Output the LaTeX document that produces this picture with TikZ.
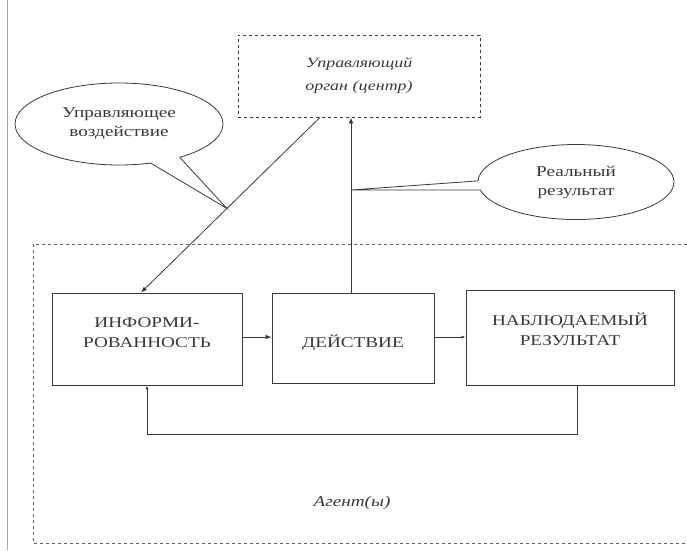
\documentclass[tikz,border=0pt]{standalone}
\usepackage{fontspec}
\setmainfont{Liberation Serif}
\newfontfamily\wideserif[FakeStretch=1.28]{Liberation Serif}
\usetikzlibrary{arrows.meta,shapes.geometric,shapes.callouts,calc}
\definecolor{ink}{gray}{0.22}
\begin{document}
\begin{tikzpicture}[x=1pt,y=-1pt,
  every node/.style={text=ink},
  blk/.style={draw=ink,line width=0.9pt,rectangle,inner sep=0pt},
  btxt/.style={align=center,inner sep=0pt,font=\wideserif\fontsize{15}{20}\selectfont},
  dbox/.style={draw=ink,line width=0.8pt,dashed,rectangle,inner sep=0pt,align=center},
  bubble/.style={draw=ink,line width=0.8pt,ellipse callout,inner sep=0pt,align=center,font=\wideserif\fontsize{15}{19}\selectfont},
  arr/.style={draw=ink,line width=0.8pt,-{Latex[length=6pt,width=4.5pt]}},
  sarr/.style={draw=ink,line width=0.8pt,-{Latex[length=4pt,width=3pt]}},
  ln/.style={draw=ink,line width=0.8pt}]
\useasboundingbox (0,0) rectangle (687,550);
% page edge line
\coordinate (e1) at (7,0);
\coordinate (e2) at (7,550);
\draw[gray!70,line width=0.6pt] (e1) -- (e2);
% agent area
\coordinate (g1) at (687,244);
\coordinate (g2) at (33,244);
\coordinate (g3) at (33,543);
\coordinate (g4) at (687,543);
\draw[ink!80,line width=0.7pt,dashed] (g1) -- (g2) -- (g3) -- (g4);
\node (agent) at (352,503) {\wideserif\fontsize{15}{18}\selectfont\itshape Агент(ы)};
% top box
\node[dbox,minimum width=242pt,minimum height=82pt,font=\wideserif\fontsize{14}{23}\selectfont\itshape] (top) at (359,76) {Управляющий\\орган (центр)};
% blocks
\node[blk,minimum width=190pt,minimum height=92pt] (info) at (147,339) {};
\node[blk,minimum width=162pt,minimum height=90pt] (act) at (353,338) {};
\node[blk,minimum width=208pt,minimum height=95pt] (obs) at (570,338) {};
\node[btxt] (infot) at ($(info.center)+(0,-6)$) {ИНФОРМИ-\\РОВАННОСТЬ};
\node[btxt] (actt) at ($(act.center)+(0,5)$) {ДЕЙСТВИЕ};
\node[btxt] (obst) at ($(obs.center)+(0,-9)$) {НАБЛЮДАЕМЫЙ\\РЕЗУЛЬТАТ};
% connectors
\draw[arr] (info.east |- 0,337) -- (act.west |- 0,337);
\draw[sarr] (act.east |- 0,337) -- (obs.west |- 0,337);
\draw[arr] (act.north -| 351,0) -- (top.south -| 351,0);
\draw[arr] ([xshift=-39pt]top.south) -- ([xshift=-6pt]info.north);
\coordinate (fb) at (577,434);
\draw[sarr] (obs.south -| fb) -- (fb) -| (info.south);
% callout tips
\coordinate (tipL) at ($([xshift=-39pt]top.south)!0.52!([xshift=-6pt]info.north)$);
\coordinate (tipR) at (351,190);
\node[bubble,minimum width=208pt,minimum height=82pt,callout absolute pointer={(tipL)},callout pointer arc=18] (cl) at (119,124) {Управляющее\\воздействие};
\node[bubble,minimum width=196pt,minimum height=75pt,callout absolute pointer={(tipR)},callout pointer arc=14] (cr) at (576,182) {Реальный\\результат};
\end{tikzpicture}
\end{document}
